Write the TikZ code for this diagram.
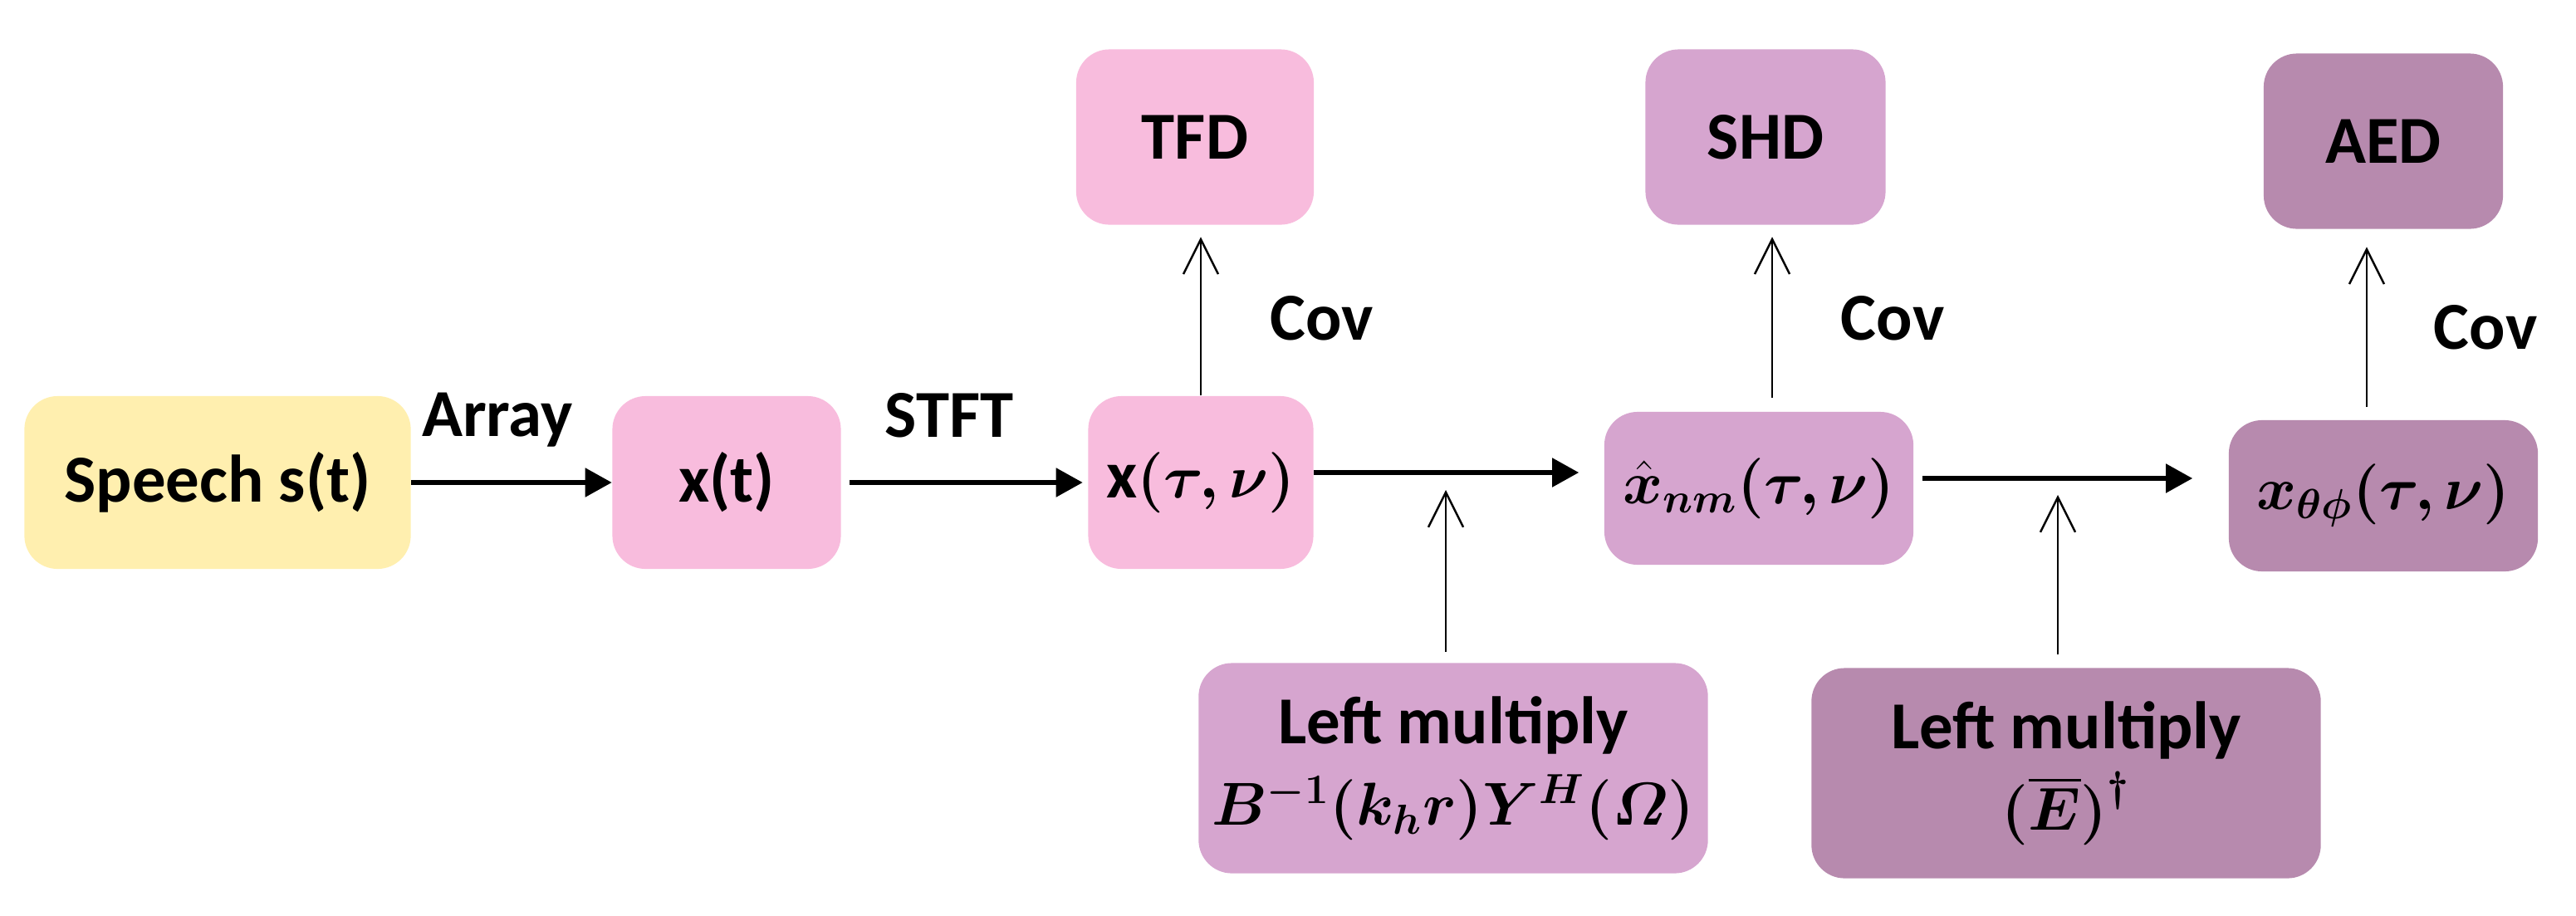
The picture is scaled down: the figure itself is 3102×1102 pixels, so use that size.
\documentclass[tikz,border=0pt]{standalone}
\usepackage{fontspec}
\usepackage{amsmath,bm}
\setmainfont{Carlito}
\usetikzlibrary{arrows.meta}
\definecolor{speechyellow}{HTML}{FFEFAF}
\definecolor{tfdpink}{HTML}{F8BCDD}
\definecolor{shdlilac}{HTML}{D6A5CF}
\definecolor{aedmauve}{HTML}{B78AAE}
\newcommand{\mathsz}{\fontsize{20.5}{28}\selectfont}

\begin{document}
\begin{tikzpicture}[x=0.01cm,y=-0.01cm,
  block/.style={rounded corners=0.4cm,inner sep=0pt,align=center,font=\fontsize{23}{28}\selectfont\bfseries},
  flow/.style={line width=1.5pt,-{Triangle[length=0.32cm,width=0.34cm]}},
  lift/.style={line width=0.7pt,-{Straight Barb[length=0.42cm,width=0.42cm]}},
  lbl/.style={font=\fontsize{23}{26}\selectfont\bfseries}]
      \useasboundingbox (0,0) rectangle (3102,1102);
      \node[block,fill=speechyellow,minimum width=4.65cm,minimum height=2.08cm] (speech) at (262,581) {Speech s(t)};
      \node[block,fill=tfdpink,minimum width=2.75cm,minimum height=2.08cm] (xt) at (875,581) {x(t)};
      \node[block,fill=tfdpink,minimum width=2.71cm,minimum height=2.08cm] (xtn) at (1446,581) {x{\mathsz$\bm{(\tau,\nu)}$}};
      \node[block,fill=tfdpink,minimum width=2.86cm,minimum height=2.11cm] (tfd) at (1439,165) {TFD};
      \node[block,fill=shdlilac,minimum width=3.72cm,minimum height=1.84cm] (xnm) at (2118,588) {\mathsz$\bm{\hat{x}_{nm}(\tau,\nu)}$};
      \node[block,fill=shdlilac,minimum width=2.89cm,minimum height=2.11cm] (shd) at (2126,165) {SHD};
      \node[block,fill=aedmauve,minimum width=3.72cm,minimum height=1.82cm] (xtp) at (2870,597) {\mathsz$\bm{x_{\theta\phi}(\tau,\nu)}$};
      \node[block,fill=aedmauve,minimum width=2.88cm,minimum height=2.11cm] (aed) at (2870,170) {AED};
      \node[block,fill=shdlilac,minimum width=6.13cm,minimum height=2.53cm] (lm1) at (1750,925) {Left multiply\\{\mathsz$\bm{B^{-1}(k_h r)Y^H(\varOmega)}$}};
      \node[block,fill=aedmauve,minimum width=6.13cm,minimum height=2.53cm] (lm2) at (2488,931) {Left multiply\\{\mathsz$\bm{(\overline{E})^{\dagger}}$}};
      \coordinate (m1) at (1741,569);
      \coordinate (m2) at (2478,576);
      % main chain
      \draw[flow] (speech) -- (xt);
      \draw[flow,shorten <=0.1cm,shorten >=0.06cm] (xt) -- (xtn);
      \draw[flow,shorten >=0.3cm] (xtn.east |- m1) -- (xnm.west |- m1);
      \draw[flow,shorten <=0.1cm,shorten >=0.43cm] (xnm.east |- m2) -- (xtp.west |- m2);
      % operators from below
      \draw[lift,shorten <=0.13cm,shorten >=0.21cm] (lm1.north -| m1) -- (m1);
      \draw[lift,shorten <=0.16cm,shorten >=0.2cm] (lm2.north -| m2) -- (m2);
      % covariances
      \draw[lift,shorten >=0.14cm] (xtn.north) -- (xtn.north |- tfd.south);
      \draw[lift,shorten <=0.16cm,shorten >=0.14cm] ([xshift=0.16cm]xnm.north) -- ([xshift=0.16cm]xnm.north |- shd.south);
      \draw[lift,shorten <=0.15cm,shorten >=0.21cm] ([xshift=-0.2cm]xtp.north) -- ([xshift=-0.2cm]xtp.north |- aed.south);
      \node[lbl] (array) at (599,506) {Array};
      \node[lbl] (stft) at (1143,500) {STFT};
      \node[lbl] (cov1) at (1592,383) {Cov};
      \node[lbl] (cov2) at (2279,383) {Cov};
      \node[lbl] (cov3) at (2993,394) {Cov};
\end{tikzpicture}
\end{document}
